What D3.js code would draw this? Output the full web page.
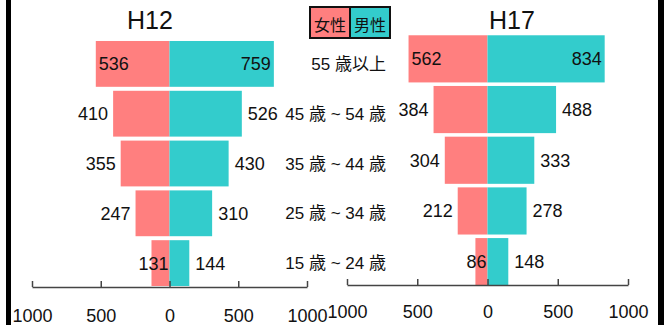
<!DOCTYPE html>
<html><head><meta charset="utf-8">
<script src="https://cdn.jsdelivr.net/npm/d3@7"></script>
<style>
html,body{margin:0;padding:0;background:#fff;}
svg{display:block;}
text{font-family:"Liberation Sans",Arial,"Noto Sans CJK JP",sans-serif;fill:#111;}
</style></head>
<body><svg id="c" width="664" height="325"></svg>
<script>
const ages = ["55 歳以上","45 歳 ~ 54 歳","35 歳 ~ 44 歳","25 歳 ~ 34 歳","15 歳 ~ 24 歳"];
const h12Female = [536,410,355,247,131];
const h12Male   = [759,526,430,310,144];
const h17Female = [562,384,304,212,86];
const h17Male   = [834,488,333,278,148];
const axisTicks = [-1000,-500,0,500,1000];
const panelTitles = ["H12","H17"];
const legendLabels = ["女性","男性"];

const femaleColor = "#FF7F7F", maleColor = "#33CCCC";
const svg = d3.select("#c");

// border bars
svg.append("rect").attr("x",6).attr("y",0).attr("width",5).attr("height",325).attr("fill","#000");
svg.append("rect").attr("x",658).attr("y",0).attr("width",6).attr("height",325).attr("fill","#000");

const panels = [
  {title:panelTitles[0], female:h12Female, male:h12Male, xr:[32,307], yr:[39,288], pin:0.08, pout:0.04, axisY:287, tickPad:22, titleX:150},
  {title:panelTitles[1], female:h17Female, male:h17Male, xr:[347,628], yr:[33.5,287], pin:0.07, pout:0.035, axisY:285, tickPad:20, titleX:512}
];

panels.forEach(p => {
  const x = d3.scaleLinear().domain([-1000,1000]).range(p.xr);
  const y = d3.scaleBand().domain(ages).range(p.yr).paddingInner(p.pin).paddingOuter(p.pout);
  const g = svg.append("g");
  g.append("text").attr("x",p.titleX).attr("y",29).attr("text-anchor","middle")
    .style("font-size","25px").text(p.title);
  // female bars
  g.selectAll(".f").data(ages).join("rect")
    .attr("x",(d,i)=>x(-p.female[i])).attr("y",d=>y(d))
    .attr("width",(d,i)=>x(0)-x(-p.female[i])).attr("height",y.bandwidth())
    .attr("fill",femaleColor);
  g.selectAll(".m").data(ages).join("rect")
    .attr("x",x(0)).attr("y",d=>y(d))
    .attr("width",(d,i)=>x(p.male[i])-x(0)).attr("height",y.bandwidth())
    .attr("fill",maleColor);
  // axis
  const ax = d3.axisBottom(x).tickValues(axisTicks).tickSizeInner(-6).tickSizeOuter(0)
    .tickPadding(p.tickPad).tickFormat(d=>Math.abs(d));
  const axg = g.append("g").attr("transform",`translate(0,${p.axisY})`).call(ax);
  axg.select(".domain").attr("stroke","#444").attr("stroke-width",1.5);
  axg.selectAll(".tick line").attr("stroke","#444").attr("stroke-width",1.5);
  axg.selectAll(".tick text").style("font-size","18px").attr("fill","#111")
    .style("font-family","'Liberation Sans',Arial,sans-serif");
  // value labels
  ages.forEach((a,i)=>{
    const cy = y(a)+y.bandwidth()/2;
    const fv = p.female[i], mv = p.male[i];
    let fx, fa, mx, ma;
    if (i===0) { fx = x(-fv)+3; fa="start"; mx = x(mv)-3; ma="end"; }
    else {
      if (fv < 150) { fx = x(0)-1; fa="end"; } else { fx = x(-fv)-5; fa="end"; }
      mx = x(mv)+6; ma="start";
    }
    g.append("text").attr("x",fx).attr("y",cy).attr("dy","0.36em").attr("text-anchor",fa)
      .style("font-size","18px").text(fv);
    g.append("text").attr("x",mx).attr("y",cy).attr("dy","0.36em").attr("text-anchor",ma)
      .style("font-size","18px").text(mv);
  });
  if (p.title===panelTitles[0]) {
    svg.append("g").selectAll("text").data(ages).join("text")
      .attr("x",386).attr("y",d=>y(d)+y.bandwidth()/2).attr("dy","0.36em")
      .attr("text-anchor","end").style("font-size","17px").text(d=>d);
  }
});

// legend
const lg = svg.append("g");
legendLabels.forEach((l,i)=>{
  lg.append("rect").attr("x",310+i*40).attr("y",7).attr("width",40).attr("height",31)
    .attr("fill",i===0?femaleColor:maleColor).attr("stroke","#111").attr("stroke-width",2);
  lg.append("text").attr("x",330+i*40).attr("y",25).attr("dy","0.36em").attr("text-anchor","middle")
    .style("font-size","16px").style("font-family","'Noto Sans CJK JP',sans-serif").text(l);
});
</script></body></html>
